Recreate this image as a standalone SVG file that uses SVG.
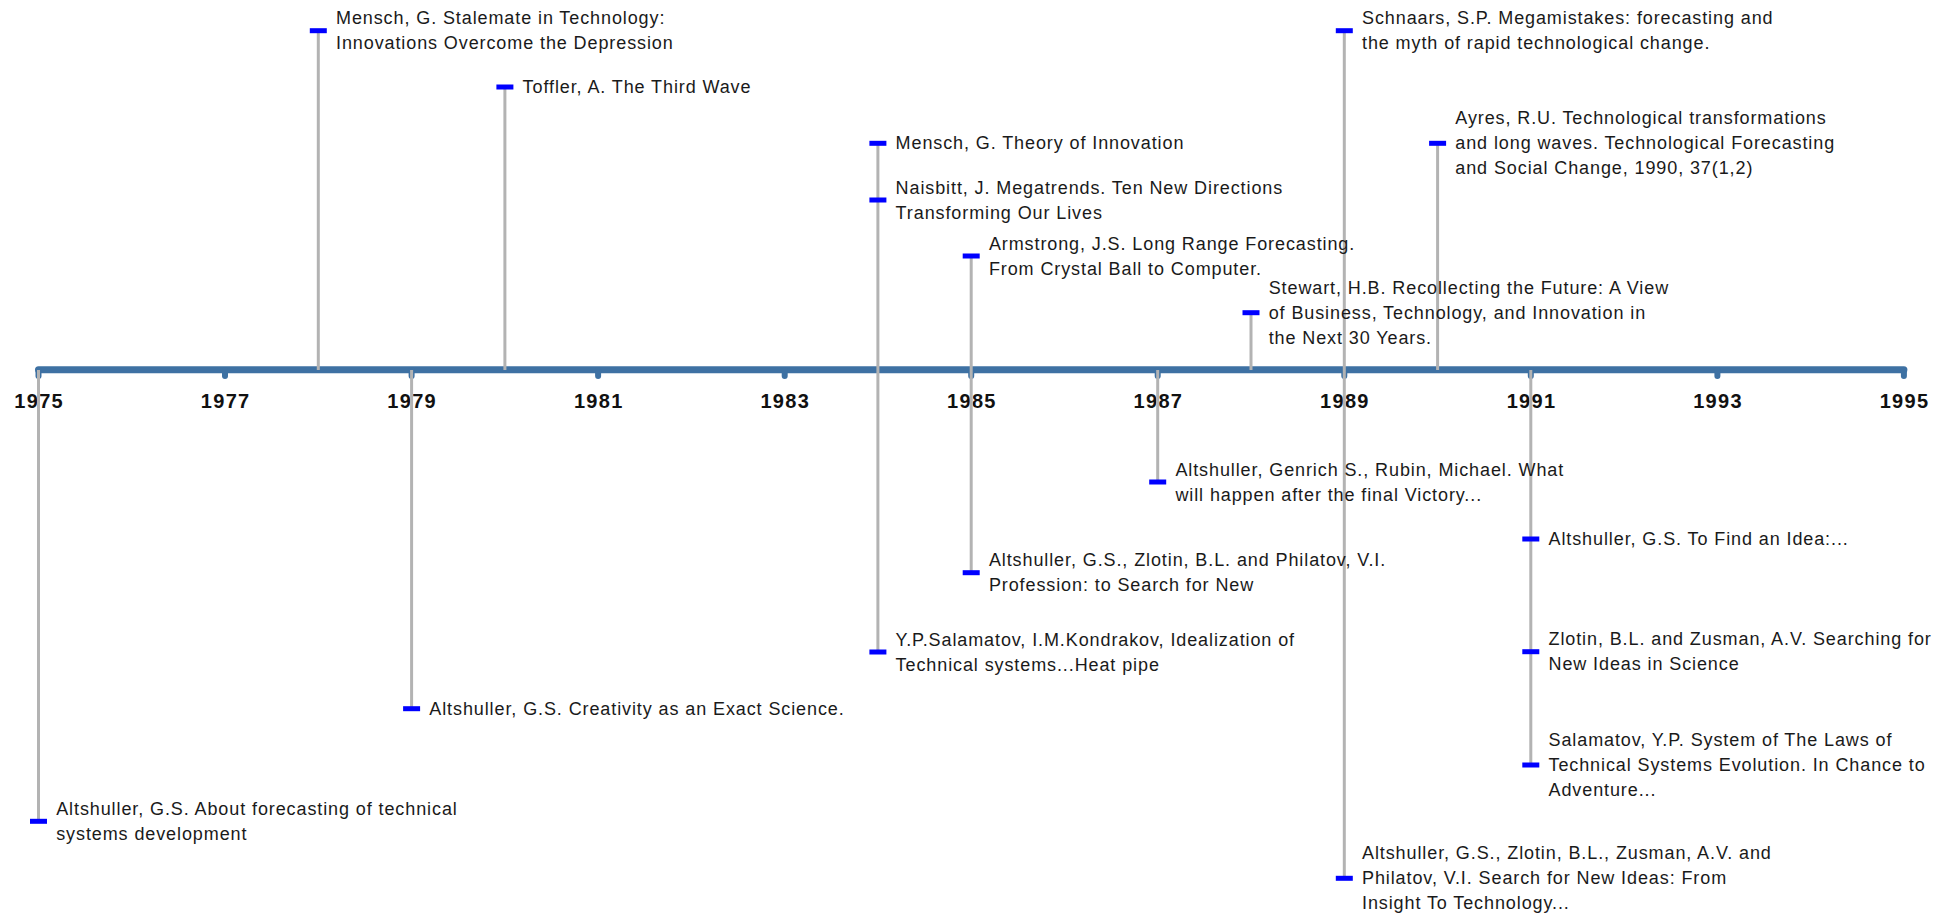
<svg xmlns="http://www.w3.org/2000/svg" width="1955" height="914" viewBox="0 0 1955 914">
<style>
.axis{stroke:#3e71a3;stroke-width:7;stroke-linecap:round;fill:none}
.tick{stroke:#3e71a3;stroke-width:6;stroke-linecap:round}
.yr{font-family:"Liberation Sans",Arial,sans-serif;font-weight:bold;font-size:20px;letter-spacing:1.3px;fill:#111;text-anchor:middle}
.conn{stroke:#b3b3b3;stroke-width:3;fill:none}
.mk{fill:#0000ff}
.lbl{font-family:"Liberation Sans",Arial,sans-serif;font-size:18px;letter-spacing:0.9px;fill:#1a1a1a}
</style>
<rect width="1955" height="914" fill="#fff"/>
<g id="axis">
<line class="axis" x1="38.5" y1="369.8" x2="1903.9" y2="369.8"/>
<line class="tick" x1="38.5" y1="370" x2="38.5" y2="376"/>
<line class="tick" x1="225.0" y1="370" x2="225.0" y2="376"/>
<line class="tick" x1="411.6" y1="370" x2="411.6" y2="376"/>
<line class="tick" x1="598.1" y1="370" x2="598.1" y2="376"/>
<line class="tick" x1="784.7" y1="370" x2="784.7" y2="376"/>
<line class="tick" x1="971.2" y1="370" x2="971.2" y2="376"/>
<line class="tick" x1="1157.7" y1="370" x2="1157.7" y2="376"/>
<line class="tick" x1="1344.3" y1="370" x2="1344.3" y2="376"/>
<line class="tick" x1="1530.8" y1="370" x2="1530.8" y2="376"/>
<line class="tick" x1="1717.4" y1="370" x2="1717.4" y2="376"/>
<line class="tick" x1="1903.9" y1="370" x2="1903.9" y2="376"/>
<text class="yr" x="39.2" y="408">1975</text>
<text class="yr" x="225.7" y="408">1977</text>
<text class="yr" x="412.2" y="408">1979</text>
<text class="yr" x="598.8" y="408">1981</text>
<text class="yr" x="785.3" y="408">1983</text>
<text class="yr" x="971.9" y="408">1985</text>
<text class="yr" x="1158.4" y="408">1987</text>
<text class="yr" x="1344.9" y="408">1989</text>
<text class="yr" x="1531.5" y="408">1991</text>
<text class="yr" x="1718.0" y="408">1993</text>
<text class="yr" x="1904.5" y="408">1995</text>
</g>
<g id="connectors">
<line class="conn" x1="318.3" y1="30.7" x2="318.3" y2="370"/>
<line class="conn" x1="504.9" y1="87" x2="504.9" y2="370"/>
<line class="conn" x1="877.9" y1="143.3" x2="877.9" y2="652"/>
<line class="conn" x1="971.2" y1="256" x2="971.2" y2="572.7"/>
<line class="conn" x1="1251.0" y1="312.7" x2="1251.0" y2="370"/>
<line class="conn" x1="1344.3" y1="30.7" x2="1344.3" y2="878.3"/>
<line class="conn" x1="1437.6" y1="143.3" x2="1437.6" y2="370"/>
<line class="conn" x1="38.5" y1="370" x2="38.5" y2="821.3"/>
<line class="conn" x1="411.6" y1="370" x2="411.6" y2="708.7"/>
<line class="conn" x1="1157.7" y1="370" x2="1157.7" y2="482"/>
<line class="conn" x1="1530.8" y1="370" x2="1530.8" y2="765"/>
</g>
<g id="n1978"><rect class="mk" x="309.8" y="28.2" width="17" height="5"/><text class="lbl"><tspan x="336" y="24.2">Mensch, G. Stalemate in Technology:</tspan><tspan x="336" y="49.2">Innovations Overcome the Depression</tspan></text></g>
<g id="n1980"><rect class="mk" x="496.4" y="84.5" width="17" height="5"/><text class="lbl"><tspan x="522.6" y="93">Toffler, A. The Third Wave</tspan></text></g>
<g id="n1984a"><rect class="mk" x="869.4" y="140.8" width="17" height="5"/><text class="lbl"><tspan x="895.6" y="149.3">Mensch, G. Theory of Innovation</tspan></text></g>
<g id="n1984b"><rect class="mk" x="869.4" y="197.5" width="17" height="5"/><text class="lbl"><tspan x="895.6" y="193.5">Naisbitt, J. Megatrends. Ten New Directions</tspan><tspan x="895.6" y="218.5">Transforming Our Lives</tspan></text></g>
<g id="n1985a"><rect class="mk" x="962.7" y="253.5" width="17" height="5"/><text class="lbl"><tspan x="988.9" y="249.5">Armstrong, J.S. Long Range Forecasting.</tspan><tspan x="988.9" y="274.5">From Crystal Ball to Computer.</tspan></text></g>
<g id="n1988"><rect class="mk" x="1242.5" y="310.2" width="17" height="5"/><text class="lbl"><tspan x="1268.7" y="293.7">Stewart, H.B. Recollecting the Future: A View</tspan><tspan x="1268.7" y="318.7">of Business, Technology, and Innovation in</tspan><tspan x="1268.7" y="343.7">the Next 30 Years.</tspan></text></g>
<g id="n1989a"><rect class="mk" x="1335.8" y="28.2" width="17" height="5"/><text class="lbl"><tspan x="1362" y="24.2">Schnaars, S.P. Megamistakes: forecasting and</tspan><tspan x="1362" y="49.2">the myth of rapid technological change.</tspan></text></g>
<g id="n1990"><rect class="mk" x="1429.1" y="140.8" width="17" height="5"/><text class="lbl"><tspan x="1455.3" y="124.3">Ayres, R.U. Technological transformations</tspan><tspan x="1455.3" y="149.3">and long waves. Technological Forecasting</tspan><tspan x="1455.3" y="174.3">and Social Change, 1990, 37(1,2)</tspan></text></g>
<g id="n1975"><rect class="mk" x="30" y="818.8" width="17" height="5"/><text class="lbl"><tspan x="56.2" y="814.8">Altshuller, G.S. About forecasting of technical</tspan><tspan x="56.2" y="839.8">systems development</tspan></text></g>
<g id="n1979"><rect class="mk" x="403.1" y="706.2" width="17" height="5"/><text class="lbl"><tspan x="429.3" y="714.7">Altshuller, G.S. Creativity as an Exact Science.</tspan></text></g>
<g id="n1984c"><rect class="mk" x="869.4" y="649.5" width="17" height="5"/><text class="lbl"><tspan x="895.6" y="645.5">Y.P.Salamatov, I.M.Kondrakov, Idealization of</tspan><tspan x="895.6" y="670.5">Technical systems...Heat pipe</tspan></text></g>
<g id="n1985b"><rect class="mk" x="962.7" y="570.2" width="17" height="5"/><text class="lbl"><tspan x="988.9" y="566.2">Altshuller, G.S., Zlotin, B.L. and Philatov, V.I.</tspan><tspan x="988.9" y="591.2">Profession: to Search for New</tspan></text></g>
<g id="n1987"><rect class="mk" x="1149.2" y="479.5" width="17" height="5"/><text class="lbl"><tspan x="1175.4" y="475.5">Altshuller, Genrich S., Rubin, Michael. What</tspan><tspan x="1175.4" y="500.5">will happen after the final Victory...</tspan></text></g>
<g id="n1989b"><rect class="mk" x="1335.8" y="875.8" width="17" height="5"/><text class="lbl"><tspan x="1362" y="859.3">Altshuller, G.S., Zlotin, B.L., Zusman, A.V. and</tspan><tspan x="1362" y="884.3">Philatov, V.I. Search for New Ideas: From</tspan><tspan x="1362" y="909.3">Insight To Technology...</tspan></text></g>
<g id="n1991a"><rect class="mk" x="1522.3" y="536.5" width="17" height="5"/><text class="lbl"><tspan x="1548.5" y="545">Altshuller, G.S. To Find an Idea:...</tspan></text></g>
<g id="n1991b"><rect class="mk" x="1522.3" y="649.2" width="17" height="5"/><text class="lbl"><tspan x="1548.5" y="645.2">Zlotin, B.L. and Zusman, A.V. Searching for</tspan><tspan x="1548.5" y="670.2">New Ideas in Science</tspan></text></g>
<g id="n1991c"><rect class="mk" x="1522.3" y="762.5" width="17" height="5"/><text class="lbl"><tspan x="1548.5" y="746">Salamatov, Y.P. System of The Laws of</tspan><tspan x="1548.5" y="771">Technical Systems Evolution. In Chance to</tspan><tspan x="1548.5" y="796">Adventure...</tspan></text></g>
</svg>
